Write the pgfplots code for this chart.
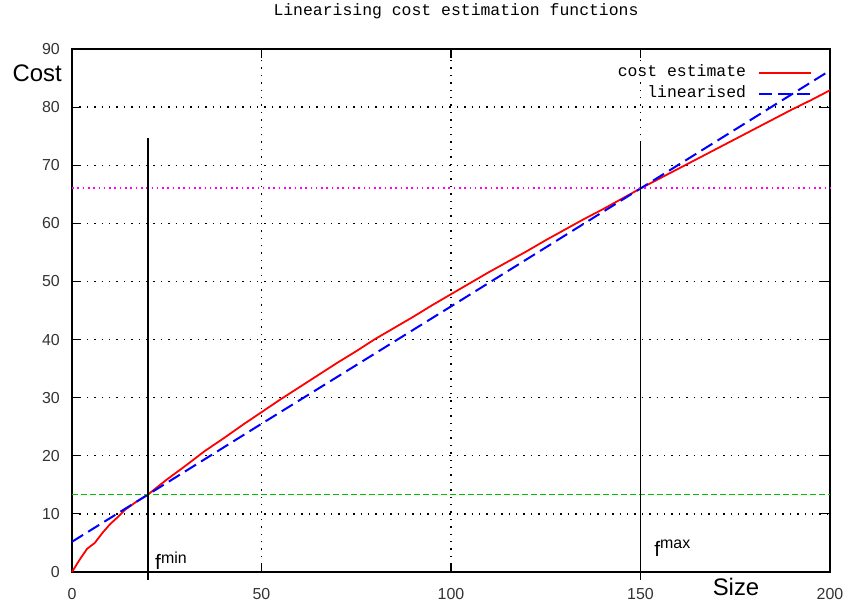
\documentclass[border=0pt]{standalone}
\usepackage{pgfplots}
\pgfplotsset{compat=1.18}
\usepackage{fontspec}
\setmainfont{Liberation Sans}
\newfontfamily\monofont{Liberation Mono}
\definecolor{gpred}{RGB}{255,0,0}
\definecolor{gpblue}{RGB}{0,0,255}
\definecolor{gpgreen}{RGB}{0,192,0}
\definecolor{gpmag}{RGB}{255,0,255}
\begin{document}
\begin{tikzpicture}
\begin{axis}[
  scale only axis,
  width=758bp, height=523bp,
  xmin=0, xmax=200, ymin=0, ymax=90,
  xtick={0,50,100,150,200},
  ytick={0,10,20,30,40,50,60,70,80,90},
  tick align=inside,
  major tick length=9bp,
  tick style={black, line width=1.2bp},
  axis line style={black, line width=1.4bp},
  grid=major,
  major grid style={black, line width=1.3bp, dash pattern=on 1.4bp off 6bp},
  /pgf/number format/assume math mode=true,
  ticklabel style={font=\fontsize{16}{16}\selectfont, text=black!80},
  xticklabel style={inner sep=0pt, anchor=north, yshift=-16bp},
  yticklabel style={inner sep=0pt, anchor=east, xshift=-12bp},
  clip=false,
  title={Linearising cost estimation functions},
  title style={font=\monofont\fontsize{16.5}{16.5}\selectfont, at={(0.5,1)}, anchor=center, yshift=32bp, xshift=5bp},
  legend image code/.code={\draw[#1] (0bp,0bp) -- (52bp,0bp);},
  legend plot pos=right,
  legend cell align=right,
  legend style={draw=none, fill=none, inner sep=0pt, outer sep=0pt,
    at={(1,1)}, anchor=north east, xshift=-18bp, yshift=-17bp,
    row sep=7bp, column sep=12bp,
    font=\monofont\fontsize{16.5}{16.5}\selectfont,
    nodes={inner sep=0pt, text height=11bp, text depth=3bp}},
]
\addplot[gpred, line width=1.8bp] coordinates {
(0,0) (2,2.1) (4,4.0) (6,5.0) (8,6.7) (10,8.2) (12,9.4) (14,10.7) (17,12.1) (20,13.3)
(25,15.9) (30,18.3) (35,20.8) (40,23.0) (45,25.3) (50,27.5) (55,29.7) (60,31.8)
(65,33.9) (70,36.0) (75,38.0) (80,40.1) (85,42.0) (90,43.9) (95,45.9) (100,47.8)
(105,49.7) (110,51.6) (115,53.4) (120,55.2) (125,57.1) (130,58.9) (135,60.7)
(140,62.4) (145,64.2) (150,66.0) (155,67.7) (160,69.4) (165,71.1) (170,72.8)
(175,74.5) (180,76.2) (185,77.9) (190,79.6) (195,81.2) (200,82.9)};
\addlegendentry{cost estimate}
\addplot[gpblue, line width=2bp, dash pattern=on 13bp off 6bp] coordinates {
(0,5.2) (20,13.3) (50,25.5) (100,45.7) (150,66.0) (200,86.3)};
\addlegendentry{linearised}
\addplot[gpgreen, line width=1.5bp, dash pattern=on 5.5bp off 3.5bp, forget plot] coordinates {(0,13.3) (200,13.3)};
\addplot[gpmag, line width=1.6bp, dash pattern=on 1.6bp off 3.7bp, forget plot] coordinates {(0,66.1) (200,66.1)};
\addplot[black, line width=1.7bp, forget plot] coordinates {(20,-1.3) (20,74.7)};
\addplot[black, line width=1.7bp, forget plot] coordinates {(150,-1.3) (150,73.8)};
\node[anchor=east, inner sep=0pt, font=\fontsize{24}{24}\selectfont] at ([xshift=-10bp]axis cs:0,85.8) {Cost};
\node[anchor=center, inner sep=0pt, font=\fontsize{24}{24}\selectfont] at ([yshift=-15bp]axis cs:175.2,0) {Size};
\node[anchor=base west, inner sep=0pt] at (axis cs:21.9,0.35) {\fontsize{21}{21}\selectfont f\raisebox{6bp}{\fontsize{16}{16}\selectfont min}};
\node[anchor=base west, inner sep=0pt] at (axis cs:153.6,2.6) {\fontsize{21}{21}\selectfont f\raisebox{8bp}{\fontsize{16}{16}\selectfont max}};
\end{axis}
\pgfresetboundingbox
\useasboundingbox ([shift={(-72bp,-32bp)}]current axis.south west) rectangle ([shift={(14bp,49bp)}]current axis.north east);
\end{tikzpicture}
\end{document}
